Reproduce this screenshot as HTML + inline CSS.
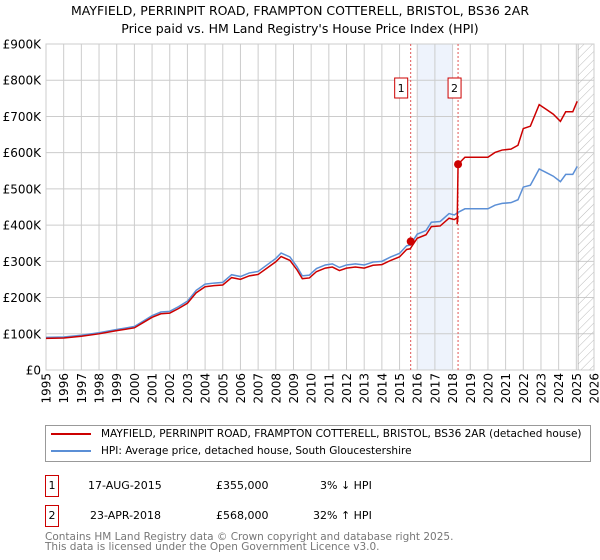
<!DOCTYPE html>
<html><head><meta charset="utf-8"><style>
body{margin:0;background:#fff;font-family:"Liberation Sans","DejaVu Sans",sans-serif;}
#wrap{position:relative;width:600px;height:560px;overflow:hidden}
.t{position:absolute;font-size:13px;color:#000;white-space:nowrap}
span,div{white-space:nowrap}
</style></head><body><div id="wrap">
<div class="t" style="left:0;width:600px;text-align:center;top:3px;font-family:'DejaVu Sans',sans-serif;font-size:12.5px">MAYFIELD, PERRINPIT ROAD, FRAMPTON COTTERELL, BRISTOL, BS36 2AR</div>
<div class="t" style="left:0;width:600px;text-align:center;top:21px;font-family:'DejaVu Sans',sans-serif;font-size:12.5px">Price paid vs. HM Land Registry's House Price Index (HPI)</div>
<svg id="chart" width="600" height="420" style="position:absolute;left:0;top:0"></svg>
<div style="position:absolute;left:45px;top:425px;width:544px;height:35px;border:1px solid #999;font-family:'DejaVu Sans',sans-serif;font-size:10.5px">
<div style="position:absolute;left:5px;top:2px"><span style="display:inline-block;width:40px;height:2px;background:#cc0000;vertical-align:middle;margin-right:10px"></span>MAYFIELD, PERRINPIT ROAD, FRAMPTON COTTERELL, BRISTOL, BS36 2AR (detached house)</div>
<div style="position:absolute;left:5px;top:19px"><span style="display:inline-block;width:40px;height:2px;background:#5b8fd6;vertical-align:middle;margin-right:10px"></span>HPI: Average price, detached house, South Gloucestershire</div>
</div>
<div style="position:absolute;left:0;top:475px;font-family:'DejaVu Sans',sans-serif;font-size:11px">
<span style="position:absolute;left:45px;top:0;width:12px;height:20px;border:1px solid #cc0000;text-align:center;line-height:20px">1</span>
<span style="position:absolute;left:88px;top:4px">17-AUG-2015</span><span style="position:absolute;left:216px;top:4px">£355,000</span><span style="position:absolute;left:320px;top:4px">3% ↓ HPI</span></div>
<div style="position:absolute;left:0;top:505px;font-family:'DejaVu Sans',sans-serif;font-size:11px">
<span style="position:absolute;left:45px;top:0;width:12px;height:20px;border:1px solid #cc0000;text-align:center;line-height:20px">2</span>
<span style="position:absolute;left:90px;top:4px">23-APR-2018</span><span style="position:absolute;left:216px;top:4px">£568,000</span><span style="position:absolute;left:313px;top:4px">32% ↑ HPI</span></div>
<div style="position:absolute;left:45px;top:532px;font-family:'DejaVu Sans',sans-serif;font-size:10.5px;color:#777;line-height:10px">Contains HM Land Registry data © Crown copyright and database right 2025.<br>This data is licensed under the Open Government Licence v3.0.</div>
</div>
<script>
const yTicks=[0,100,200,300,400,500,600,700,800,900];
const yearTicks=[1995,1996,1997,1998,1999,2000,2001,2002,2003,2004,2005,2006,2007,2008,2009,2010,2011,2012,2013,2014,2015,2016,2017,2018,2019,2020,2021,2022,2023,2024,2025,2026];
const hpiDates=[1995,1996,1997,1998,1999,2000,2000.5,2001,2001.5,2002,2002.5,2003,2003.5,2004,2004.5,2005,2005.5,2006,2006.5,2007,2007.5,2008,2008.3,2008.8,2009.2,2009.5,2009.9,2010.3,2010.8,2011.2,2011.6,2012,2012.5,2013,2013.5,2014,2014.5,2015,2015.4,2015.6,2016,2016.5,2016.8,2017.3,2017.8,2018.1,2018.3,2018.7,2019.2,2019.7,2020,2020.4,2020.8,2021.3,2021.7,2022,2022.4,2022.9,2023.3,2023.7,2024.1,2024.4,2024.8,2025.05];
const hpiValues=[90,91,96,103,112,120,135,150,160,162,175,190,220,237,240,242,263,258,268,272,290,308,323,312,285,260,262,280,290,293,283,290,293,290,298,300,312,322,343,345,375,385,408,410,432,428,435,445,445,445,445,455,460,462,470,505,510,555,545,535,520,540,540,562];
const saleDates=[2015.63,2018.31];
const salePrices=[355,568];
const saleRatios=[0.97,1.32];
const X0=46,X1=594,Y0=370,Y1=44;
const x=d=>X0+(d-1995)/(2026-1995)*(X1-X0);
const y=v=>Y0-v/900*(Y0-Y1);
const svg=document.getElementById('chart');const NS='http://www.w3.org/2000/svg';
function mk(t,a){const e=document.createElementNS(NS,t);for(const k in a)e.setAttribute(k,a[k]);svg.appendChild(e);return e;}
let e;
e=mk('rect',{x:x(2016),y:Y1,width:x(2018)-x(2016),height:Y0-Y1,fill:'#eef3fc'});


yTicks.forEach(v=>{e=mk('line',{x1:X0,x2:X1,y1:y(v),y2:y(v),stroke:'#ccc','stroke-width':1});


e=mk('text',{x:X0-5,y:y(v)+4.5,'text-anchor':'end','font-size':12,'font-family':'DejaVu Sans,sans-serif'});e.textContent=v===0?'£0':'£'+v+'K';

});
yearTicks.forEach(yr=>{e=mk('line',{x1:x(yr),x2:x(yr),y1:Y1,y2:Y0,stroke:'#ccc','stroke-width':1});


e=mk('text',{x:0,y:0,transform:`translate(${x(yr)+4.5},${Y0+3}) rotate(-90)`,'text-anchor':'end','font-size':12,'font-family':'DejaVu Sans,sans-serif'});e.textContent=yr;

});
const defs=mk('defs',{});defs.innerHTML='<pattern id="h" width="6" height="6" patternUnits="userSpaceOnUse" patternTransform="rotate(45)"><line x1="0" y1="0" x2="0" y2="6" stroke="#bbb" stroke-width="1"/></pattern>';
e=mk('rect',{x:x(2025.1),y:Y1,width:X1-x(2025.1),height:Y0-Y1,fill:'url(#h)',stroke:'#999','stroke-width':0.6});


e=mk('rect',{x:X0,y:Y1,width:X1-X0,height:Y0-Y1,fill:'none',stroke:'#ccc'});


saleDates.forEach((d,i)=>{e=mk('line',{x1:x(d),x2:x(d),y1:Y1,y2:Y0,stroke:'#e05555','stroke-width':1,'stroke-dasharray':'2,2'});


e=mk('rect',{x:x(d)-(i?4:10)-6,y:78,width:13,height:20,fill:'#fff',stroke:'#cc0000'});


e=mk('text',{x:x(d)-(i?4:10)+0.5,y:92,'text-anchor':'middle','font-size':11,'font-family':'DejaVu Sans,sans-serif'});e.textContent=i+1;

});
e=mk('polyline',{points:hpiDates.map((d,i)=>x(d)+','+y(hpiValues[i])).join(' '),fill:'none',stroke:'#5b8fd6','stroke-width':1.5});


const pts=[];
hpiDates.forEach((d,i)=>{if(d<saleDates[1])pts.push([d,hpiValues[i]*saleRatios[0]]);});
pts.push([saleDates[1]-0.05,hpiValues[hpiDates.findIndex(d=>d>=2018.1)]*saleRatios[0]*0.97]);
pts.push([saleDates[1],salePrices[1]]);
hpiDates.forEach((d,i)=>{if(d>saleDates[1])pts.push([d,hpiValues[i]*saleRatios[1]]);});
e=mk('polyline',{points:pts.map(p=>x(p[0])+','+y(p[1])).join(' '),fill:'none',stroke:'#cc0000','stroke-width':1.5});


saleDates.forEach((d,i)=>{e=mk('circle',{cx:x(d),cy:y(salePrices[i]),r:4,fill:'#cc0000'});

});
</script></body></html>
